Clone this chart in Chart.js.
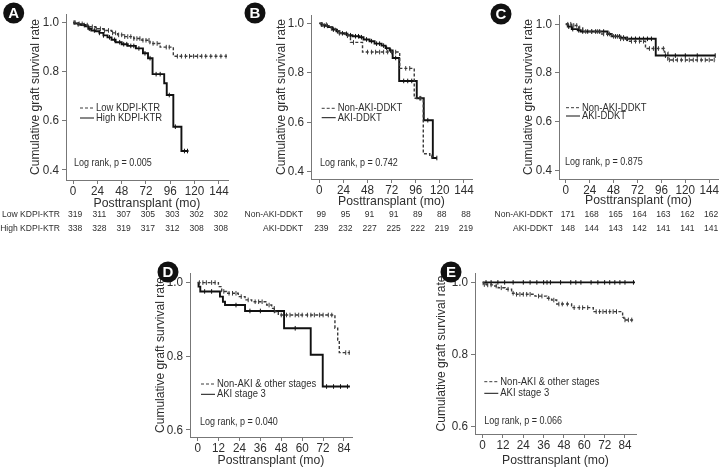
<!DOCTYPE html>
<html>
<head>
<meta charset="utf-8">
<script src="https://cdn.jsdelivr.net/npm/chart.js@4.4.1/dist/chart.umd.min.js"></script>
<style>
  body { margin: 0; background: #fff; }
  #fig { position: relative; width: 723px; height: 469px; overflow: hidden; }
  canvas { position: absolute; }
</style>
</head>
<body>
<div id="fig">
  <canvas id="cA" width="240" height="240" style="left:0;top:0"></canvas>
  <canvas id="cB" width="240" height="240" style="left:240px;top:0"></canvas>
  <canvas id="cC" width="243" height="240" style="left:480px;top:0"></canvas>
  <canvas id="cD" width="230" height="229" style="left:140px;top:240px"></canvas>
  <canvas id="cE" width="303" height="229" style="left:420px;top:240px"></canvas>
</div>
<script>
const FONT = "'Liberation Sans', Arial, sans-serif";
const NARROW = 0.9; // the figure's text is a little condensed
const INK = '#2e2e2e';

// tick values
const xTicksLong = [0, 24, 48, 72, 96, 120, 144];
const xTicksShort = [0, 12, 24, 36, 48, 60, 72, 84];
const yTicksTop = [0.4, 0.6, 0.8, 1.0];
const yTicksBottom = [0.6, 0.8, 1.0];

// A: KDPI
const lowKdpiTime = [0, 4, 10, 16, 22, 30, 38, 44, 50, 60, 68, 76, 86, 99, 152];
const lowKdpiSurv = [1, 0.995, 0.99, 0.983, 0.975, 0.968, 0.958, 0.95, 0.943, 0.935, 0.928, 0.915, 0.9, 0.863, 0.863];
const lowKdpiCensor = [2, 6, 9, 14, 19, 23, 27, 31, 35, 39, 42, 45, 48, 51, 54, 57, 60, 63, 66, 69, 72, 75, 79, 83, 92, 95, 103, 107, 111, 115, 119, 123, 127, 131, 136, 141, 146, 151];
const highKdpiTime = [0, 2, 5, 8, 12, 15, 18, 22, 26, 30, 34, 38, 42, 48, 54, 62, 69, 74, 78.5, 90, 92.5, 99, 107, 114];
const highKdpiSurv = [1, 0.997, 0.993, 0.99, 0.985, 0.975, 0.968, 0.965, 0.958, 0.948, 0.94, 0.93, 0.92, 0.912, 0.905, 0.895, 0.875, 0.855, 0.79, 0.753, 0.705, 0.576, 0.477, 0.477];
const highKdpiCensor = [1, 5, 11, 16, 21, 26, 30, 36, 41, 46, 50, 53, 57, 60, 65, 71, 76, 82, 86, 95, 101, 110, 113];
const lowKdpiAtRisk = [319, 311, 307, 305, 303, 302, 302];
const highKdpiAtRisk = [338, 328, 319, 317, 312, 308, 308];

// B: AKI in high KDPI
const nonAkiBTime = [0, 3, 8, 12, 16, 20, 26, 31, 43, 80, 94.5, 103.5, 110, 113];
const nonAkiBSurv = [1, 0.995, 0.99, 0.98, 0.97, 0.96, 0.95, 0.923, 0.884, 0.818, 0.697, 0.472, 0.46, 0.46];
const nonAkiBCensor = [3, 7, 12, 20, 28, 34, 48, 52, 56, 60, 64, 68, 72, 76, 86, 90, 100, 112];
const akiBTime = [0, 2, 5, 9, 13, 17, 20, 25, 28, 33, 40, 44, 50, 55, 62, 66, 70, 73, 79.5, 97, 104, 113, 117];
const akiBSurv = [1, 0.995, 0.99, 0.985, 0.975, 0.968, 0.96, 0.958, 0.952, 0.948, 0.944, 0.935, 0.928, 0.918, 0.91, 0.9, 0.89, 0.86, 0.767, 0.697, 0.608, 0.455, 0.455];
const akiBCensor = [2, 5, 8, 14, 18, 23, 27, 31, 36, 39, 42, 47, 52, 57, 60, 64, 67, 71, 76, 84, 88, 92, 101, 108, 117];
const nonAkiBAtRisk = [99, 95, 91, 91, 89, 88, 88];
const akiBAtRisk = [239, 232, 227, 225, 222, 219, 219];

// C: AKI in low KDPI
const nonAkiCTime = [0, 6, 13, 17, 36, 46, 54, 64, 80, 99, 102.5, 150];
const nonAkiCSurv = [1, 0.995, 0.985, 0.97, 0.96, 0.95, 0.94, 0.93, 0.9, 0.885, 0.853, 0.853];
const nonAkiCCensor = [2, 5, 8, 11, 14, 20, 26, 32, 38, 44, 48, 52, 55, 58, 61, 66, 70, 74, 78, 84, 88, 93, 98, 104, 108, 112, 116, 120, 124, 128, 132, 136, 140, 144, 149];
const akiCTime = [0, 2, 6, 12, 15, 42, 46, 55, 60, 90.3, 150];
const akiCSurv = [1, 0.99, 0.98, 0.975, 0.97, 0.96, 0.95, 0.945, 0.94, 0.871, 0.871];
const akiCCensor = [3, 7, 13, 17, 22, 26, 30, 34, 38, 42, 50, 54, 58, 62, 66, 70, 74, 78, 82, 86, 100, 110, 120, 132, 150];
const nonAkiCAtRisk = [171, 168, 165, 164, 163, 162, 162];
const akiCAtRisk = [148, 144, 143, 142, 141, 141, 141];

// D: AKI stage 3 vs others
const otherDTime = [0, 11.9, 13.8, 16.6, 23.3, 27.2, 31, 39.6, 42.5, 44.4, 46.3, 78.8, 80.4, 81.3, 87.4];
const otherDSurv = [1, 0.989, 0.976, 0.971, 0.962, 0.953, 0.948, 0.939, 0.93, 0.921, 0.912, 0.876, 0.844, 0.81, 0.81];
const otherDCensor = [1, 3, 5, 8, 10, 15, 18, 20, 22, 25, 29, 33, 35, 37, 41, 44, 48, 51, 53, 56, 58, 60, 63, 65, 67, 70, 72, 75, 77, 85, 87];
const stage3DTime = [0, 0.5, 1.5, 12.8, 14.5, 15.7, 27.2, 49.6, 64.9, 71.8, 87.4];
const stage3DSurv = [1, 0.989, 0.976, 0.962, 0.948, 0.939, 0.923, 0.876, 0.804, 0.718, 0.718];
const stage3DCensor = [4, 8, 22, 30, 36, 44, 56, 74, 78, 82, 86];

// E: AKI stage 3 vs others
const otherETime = [0, 0.4, 2.4, 6.3, 9.2, 13.2, 17.1, 19.1, 30.9, 37.8, 40.7, 43.7, 52.5, 65.3, 82.6, 83.4, 89.9];
const otherESurv = [1, 0.994, 0.993, 0.99, 0.985, 0.981, 0.97, 0.967, 0.962, 0.956, 0.951, 0.94, 0.93, 0.919, 0.903, 0.896, 0.896];
const otherECensor = [1, 3, 5, 8, 11, 15, 18, 20, 22, 24, 26, 28, 33, 35, 39, 42, 45, 47, 50, 54, 57, 59, 62, 67, 69, 71, 73, 75, 77, 79, 84, 86, 88];
const stage3ETime = [0, 89.9];
const stage3ESurv = [1, 1];
const stage3ECensor = [2, 5, 9, 13, 18, 24, 28, 32, 36, 38, 40, 46, 52, 55, 58, 64, 68, 72, 75, 78, 81, 84, 89];

const DASH = { color: '#3a3a3a', width: 1.4, dash: [3, 2] };
const SOLID = { color: '#111', width: 1.9, dash: [] };

function survAt(times, surv, t) {
  let v = surv[0];
  for (let i = 0; i < times.length; i++) if (times[i] <= t) v = surv[i];
  return v;
}

// squeeze every fillText on this canvas horizontally around its anchor
function narrowText(canvas) {
  const ctx = canvas.getContext('2d');
  const raw = ctx.fillText.bind(ctx);
  ctx.fillTextRaw = raw;
  ctx.fillText = function (text, x, y, maxWidth) {
    this.save();
    this.translate(x, y);
    this.scale(NARROW, 1);
    if (maxWidth == null) raw(text, 0, 0); else raw(text, 0, 0, maxWidth / NARROW);
    this.restore();
  };
}

function extras(o) {
  return {
    id: 'extras' + o.letter,
    afterDraw(chart) {
      const ctx = chart.ctx;
      ctx.save();
      // panel letter
      ctx.fillStyle = '#111';
      ctx.beginPath();
      ctx.arc(o.letterX, o.letterY, 10.5, 0, Math.PI * 2);
      ctx.fill();
      ctx.fillStyle = '#fff';
      ctx.font = "bold 15px 'Liberation Sans', Arial, sans-serif";
      ctx.textAlign = 'center';
      ctx.textBaseline = 'middle';
      ctx.fillTextRaw(o.letter, o.letterX, o.letterY + 1);
      // legend
      ctx.textAlign = 'left';
      ctx.font = '10.5px ' + FONT;
      o.series.forEach((s, i) => {
        const y = o.legendY[i];
        ctx.strokeStyle = s.style.color;
        ctx.lineWidth = 1;
        ctx.setLineDash(s.style.dash);
        ctx.beginPath();
        ctx.moveTo(o.legendX, y);
        ctx.lineTo(o.legendX + 14, y);
        ctx.stroke();
        ctx.setLineDash([]);
        ctx.fillStyle = INK;
        ctx.fillText(s.label, o.legendX + 16, y);
      });
      ctx.font = '10px ' + FONT;
      ctx.fillText(o.logRank, o.logX, o.logY);
      // number at risk
      if (o.risk) {
        const xs = chart.scales.x;
        ctx.font = '9.5px ' + FONT;
        o.series.forEach((s, r) => {
          const y = o.riskY[r];
          ctx.textAlign = 'right';
          ctx.fillText(s.label, o.riskLabelX, y);
          ctx.textAlign = 'center';
          o.risk[r].forEach((v, k) => ctx.fillText(String(v), xs.getPixelForValue(o.xTicks[k]) + 2, y));
        });
      }
      ctx.restore();
    }
  };
}

function makePanel(p) {
  const canvas = document.getElementById(p.id);
  narrowText(canvas);
  const datasets = [];
  p.series.forEach(s => {
    datasets.push({
      data: s.time.map((t, i) => ({ x: t, y: s.surv[i] })),
      showLine: true, stepped: true, fill: false,
      borderColor: s.style.color, borderWidth: s.style.width, borderDash: s.style.dash,
      pointRadius: 0
    });
    datasets.push({
      data: s.censor.map(t => ({ x: t, y: survAt(s.time, s.surv, t) })),
      showLine: false, pointStyle: 'line', rotation: 90, pointRadius: 2.3,
      pointBorderColor: s.style.color, pointBorderWidth: 1, pointBackgroundColor: s.style.color
    });
  });

  new Chart(canvas, {
    type: 'scatter',
    data: { datasets },
    options: {
      responsive: false,
      animation: false,
      events: [],
      layout: { padding: p.pad },
      plugins: { legend: { display: false }, tooltip: { enabled: false } },
      scales: {
        x: {
          type: 'linear', min: p.xMin, max: p.xMax,
          afterBuildTicks: a => { a.ticks = p.xTicks.map(v => ({ value: v })); },
          afterFit: s => { s.height = p.xH; s.paddingLeft = 0; s.paddingRight = 0; },
          grid: { drawOnChartArea: false, drawTicks: true, tickLength: 4, color: '#777' },
          border: { display: true, color: '#777' },
          ticks: { color: INK, font: { family: FONT, size: 13 }, padding: 0, maxRotation: 0, autoSkip: false },
          title: { display: true, text: 'Posttransplant (mo)', color: INK, font: { family: FONT, size: 13.6 }, padding: { top: 0, bottom: p.xTitlePad } }
        },
        y: {
          type: 'linear', min: p.yMin, max: p.yMax,
          afterBuildTicks: a => { a.ticks = p.yTicks.map(v => ({ value: v })); },
          afterFit: s => { s.width = p.yW; s.paddingTop = 0; s.paddingBottom = 0; },
          grid: { drawOnChartArea: false, drawTicks: true, tickLength: 4, color: '#777' },
          border: { display: true, color: '#777' },
          ticks: { color: INK, font: { family: FONT, size: 13 }, padding: 3, callback: v => v.toFixed(1) },
          title: { display: true, text: 'Cumulative graft survival rate', color: INK, font: { family: FONT, size: 13.4 }, padding: { top: p.yTitlePad, bottom: 0 } }
        }
      }
    },
    plugins: [extras(p)]
  });
}

// top row: the x axis box reaches the canvas bottom so the at-risk rows sit inside it
makePanel({
  id: 'cA', letter: 'A', letterX: 13.7, letterY: 13,
  pad: { left: 0, top: 14, right: 12, bottom: 0 }, xH: 60, yW: 66,
  xMin: -7, xMax: 153, yMin: 0.359, yMax: 1.035, xTicks: xTicksLong, yTicks: yTicksTop,
  yTitlePad: 27, xTitlePad: 28.8,
  series: [
    { label: 'Low KDPI-KTR', time: lowKdpiTime, surv: lowKdpiSurv, censor: lowKdpiCensor, style: DASH },
    { label: 'High KDPI-KTR', time: highKdpiTime, surv: highKdpiSurv, censor: highKdpiCensor, style: SOLID }
  ],
  legendX: 80, legendY: [108, 118], logRank: 'Log rank, p = 0.005', logX: 74, logY: 163,
  risk: [lowKdpiAtRisk, highKdpiAtRisk], riskY: [214, 228], riskLabelX: 60
});

makePanel({
  id: 'cB', letter: 'B', letterX: 15, letterY: 13,
  pad: { left: 0, top: 15, right: 8, bottom: 0 }, xH: 61, yW: 71,
  xMin: -8.3, xMax: 152, yMin: 0.370, yMax: 1.034, xTicks: xTicksLong, yTicks: yTicksTop,
  yTitlePad: 33.7, xTitlePad: 30.1,
  series: [
    { label: 'Non-AKI-DDKT', time: nonAkiBTime, surv: nonAkiBSurv, censor: nonAkiBCensor, style: DASH },
    { label: 'AKI-DDKT', time: akiBTime, surv: akiBSurv, censor: akiBCensor, style: SOLID }
  ],
  legendX: 81.7, legendY: [108.3, 117.7], logRank: 'Log rank, p = 0.742', logX: 80, logY: 163,
  risk: [nonAkiBAtRisk, akiBAtRisk], riskY: [214, 228], riskLabelX: 63
});

makePanel({
  id: 'cC', letter: 'C', letterX: 21, letterY: 14,
  pad: { left: 0, top: 15, right: 0, bottom: 0 }, xH: 61, yW: 79,
  xMin: -6.8, xMax: 152.8, yMin: 0.363, yMax: 1.038, xTicks: xTicksLong, yTicks: yTicksTop,
  yTitlePad: 40.3, xTitlePad: 31.8,
  series: [
    { label: 'Non-AKI-DDKT', time: nonAkiCTime, surv: nonAkiCSurv, censor: nonAkiCCensor, style: DASH },
    { label: 'AKI-DDKT', time: akiCTime, surv: akiCSurv, censor: akiCCensor, style: SOLID }
  ],
  legendX: 86, legendY: [107.7, 116], logRank: 'Log rank, p = 0.875', logX: 85, logY: 162.3,
  risk: [nonAkiCAtRisk, akiCAtRisk], riskY: [214, 228], riskLabelX: 73
});

makePanel({
  id: 'cD', letter: 'D', letterX: 28, letterY: 32,
  pad: { left: 0, top: 33, right: 18, bottom: 0 }, xH: 32, yW: 50,
  xMin: -4.4, xMax: 88.6, yMin: 0.581, yMax: 1.026, xTicks: xTicksShort, yTicks: yTicksBottom,
  yTitlePad: 12, xTitlePad: 0.8,
  series: [
    { label: 'Non-AKI & other stages', time: otherDTime, surv: otherDSurv, censor: otherDCensor, style: DASH },
    { label: 'AKI stage 3', time: stage3DTime, surv: stage3DSurv, censor: stage3DCensor, style: SOLID }
  ],
  legendX: 61, legendY: [144, 154.3], logRank: 'Log rank, p = 0.040', logX: 60, logY: 182.7
});

makePanel({
  id: 'cE', letter: 'E', letterX: 31, letterY: 32,
  pad: { left: 0, top: 33, right: 87, bottom: 0 }, xH: 35, yW: 55,
  xMin: -4.5, xMax: 90.5, yMin: 0.580, yMax: 1.026, xTicks: xTicksShort, yTicks: yTicksBottom,
  yTitlePad: 13.7, xTitlePad: 0.8,
  series: [
    { label: 'Non-AKI & other stages', time: otherETime, surv: otherESurv, censor: otherECensor, style: DASH },
    { label: 'AKI stage 3', time: stage3ETime, surv: stage3ESurv, censor: stage3ECensor, style: SOLID }
  ],
  legendX: 64.3, legendY: [141.7, 153.3], logRank: 'Log rank, p = 0.066', logX: 64.3, logY: 181.7
});
</script>
</body>
</html>
